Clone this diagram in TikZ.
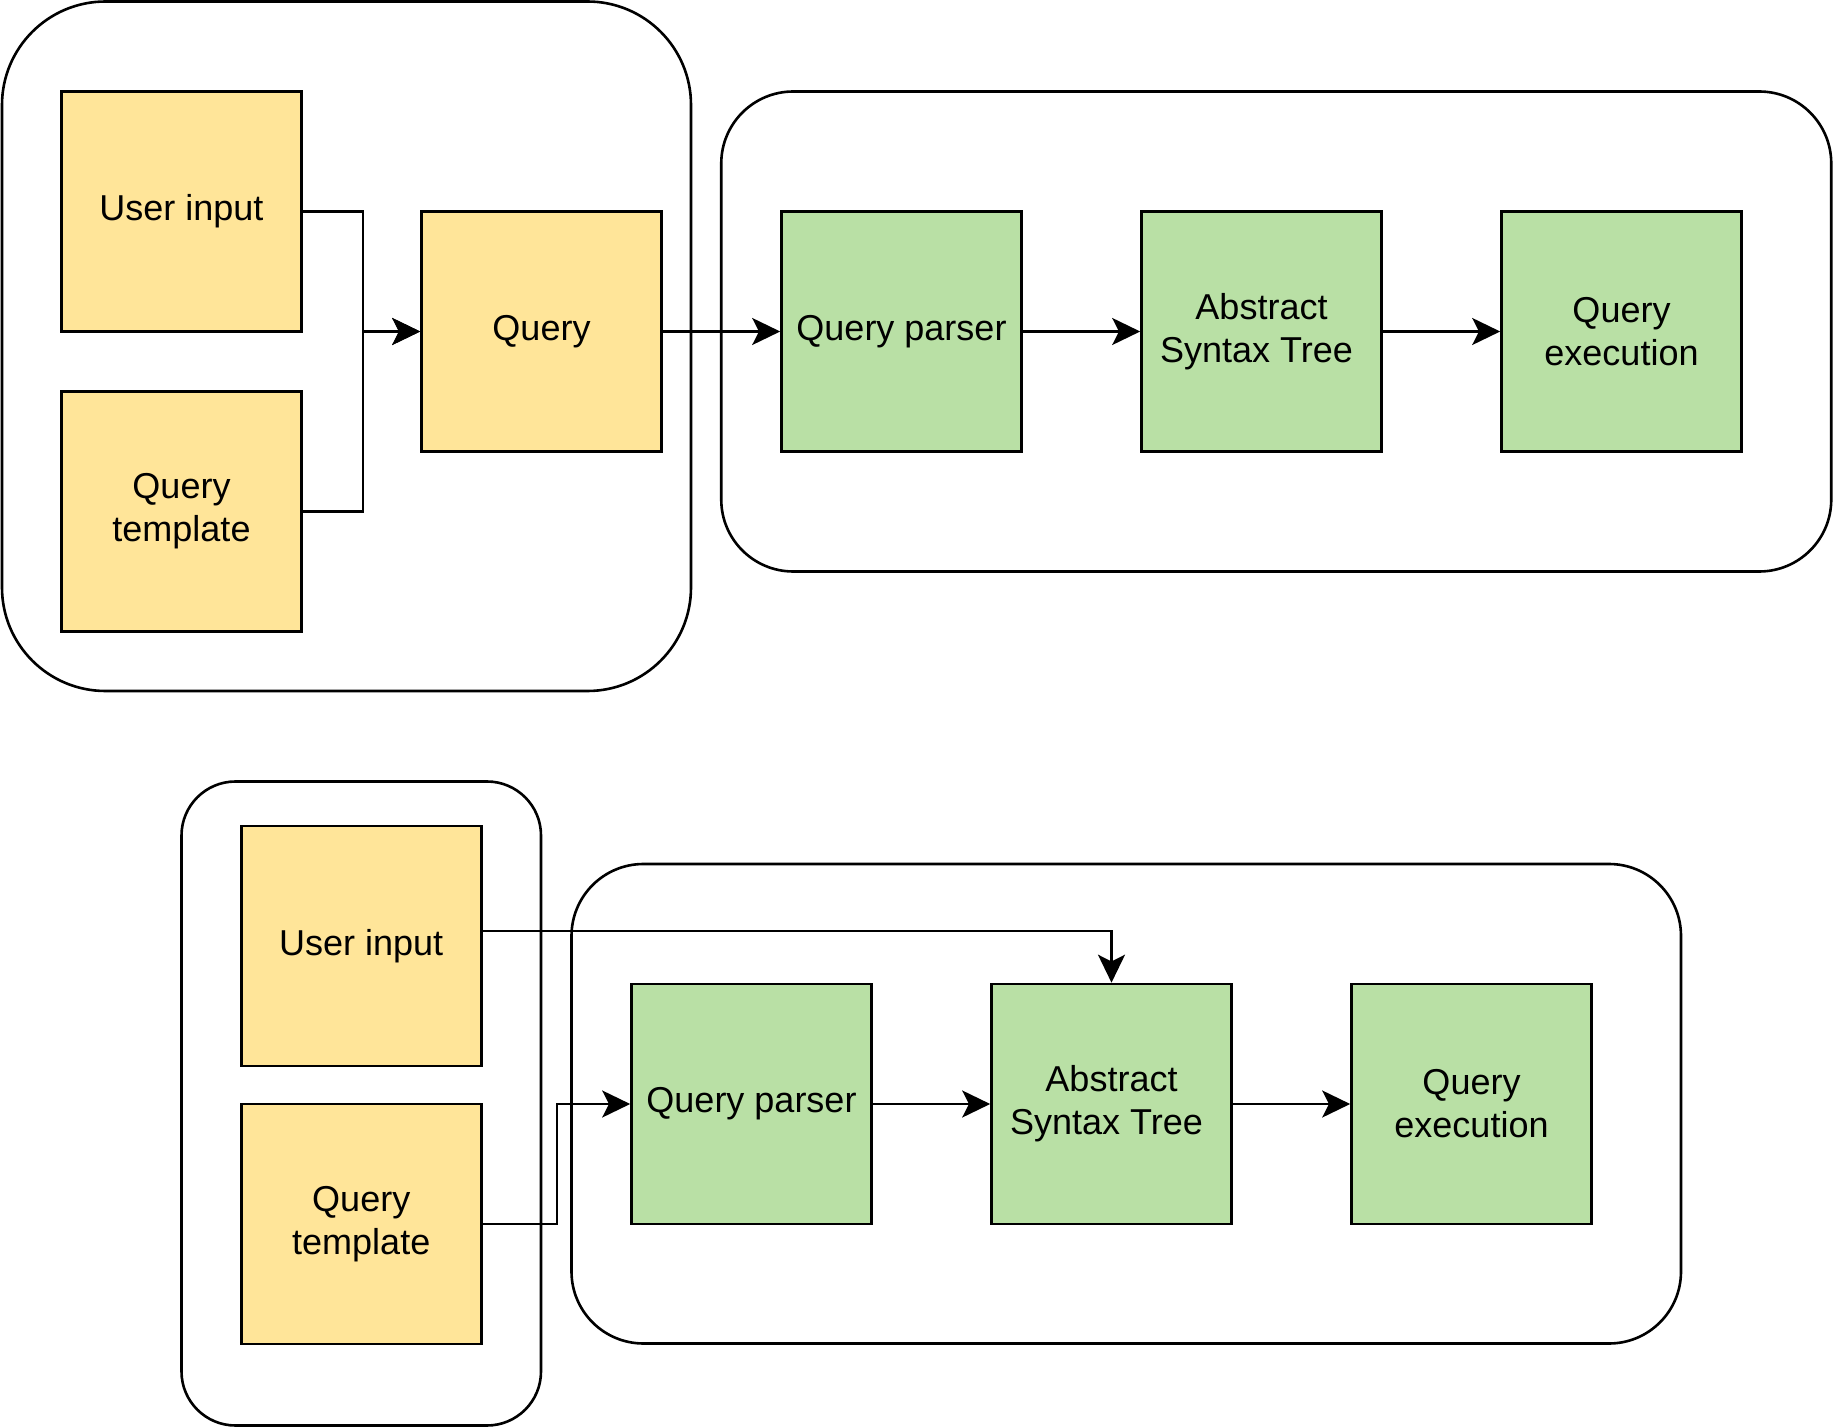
\documentclass[tikz,border=0pt]{standalone}
\usepackage{fontspec}
\setmainfont{Liberation Sans}
\usetikzlibrary{arrows.meta}
\definecolor{boxyellow}{HTML}{FFE599}
\definecolor{boxgreen}{HTML}{B9E0A5}
\tikzset{
  base/.style={draw=black, line width=1.3pt, inner sep=0pt, align=center,
    minimum width=120pt, minimum height=120pt,
    font=\fontsize{18pt}{21.5pt}\selectfont},
  ybox/.style={base, fill=boxyellow},
  gbox/.style={base, fill=boxgreen},
  container/.style={draw=black, line width=1.3pt, inner sep=0pt, fill=none},
  arr/.style={draw=black, line width=1.3pt,
    -{Stealth[length=14pt, width=13.5pt, inset=3.4pt]}},
  conn/.style={draw=black, line width=1.3pt}
}
\begin{document}
\begin{tikzpicture}[x=0.5pt, y=-0.5pt]
\useasboundingbox (0,0) rectangle (1833,1428);
% containers
\node[container, rounded corners=51.75pt, minimum width=344.5pt, minimum height=344.75pt] (c1) at (346.5,346.25) {};
\node[container, rounded corners=36pt, minimum width=555pt, minimum height=240pt] (c2) at (1276.25,331.5) {};
\node[container, rounded corners=27pt, minimum width=179.75pt, minimum height=322pt] (c3) at (361.25,1103.5) {};
\node[container, rounded corners=36pt, minimum width=554.75pt, minimum height=239.75pt] (c4) at (1126.25,1103.75) {};
% top row
\node[ybox] (ui1) at (181.5,211.6) {User input};
\node[ybox] (qt1) at (181.5,511.6) {Query\\template};
\node[ybox] (q1) at (541.5,331.5) {Query};
\node[gbox] (qp1) at (901.5,331.5) {Query parser};
\node[gbox] (ast1) at (1261.5,331.5) {Abstract\\Syntax Tree\hspace*{5pt}};
\node[gbox] (qe1) at (1621.5,331.5) {Query\\execution};
% bottom row
\node[ybox] (ui2) at (361.25,946) {User input};
\node[ybox] (qt2) at (361.25,1224) {Query\\template};
\node[gbox] (qp2) at (751.5,1104) {Query parser};
\node[gbox] (ast2) at (1111.5,1104) {Abstract\\Syntax Tree\hspace*{5pt}};
\node[gbox] (qe2) at (1471.5,1104) {Query\\execution};
% top connectors
\draw[arr] (ui1.east) -- ++(60,0) |- (q1.west);
\draw[arr] (qt1.east) -- ++(60,0) |- (q1.west);
\draw[arr] (q1) -- (qp1);
\draw[arr] (qp1) -- (ast1);
\draw[arr] (ast1) -- (qe1);
% bottom connectors
\draw[arr] ([yshift=7.5pt]ui2.east) -| (ast2.north);
\draw[arr] (qt2.east) -- ++(74.5,0) |- (qp2.west);
\draw[arr] (qp2) -- (ast2);
\draw[arr] (ast2) -- (qe2);
\end{tikzpicture}
\end{document}
